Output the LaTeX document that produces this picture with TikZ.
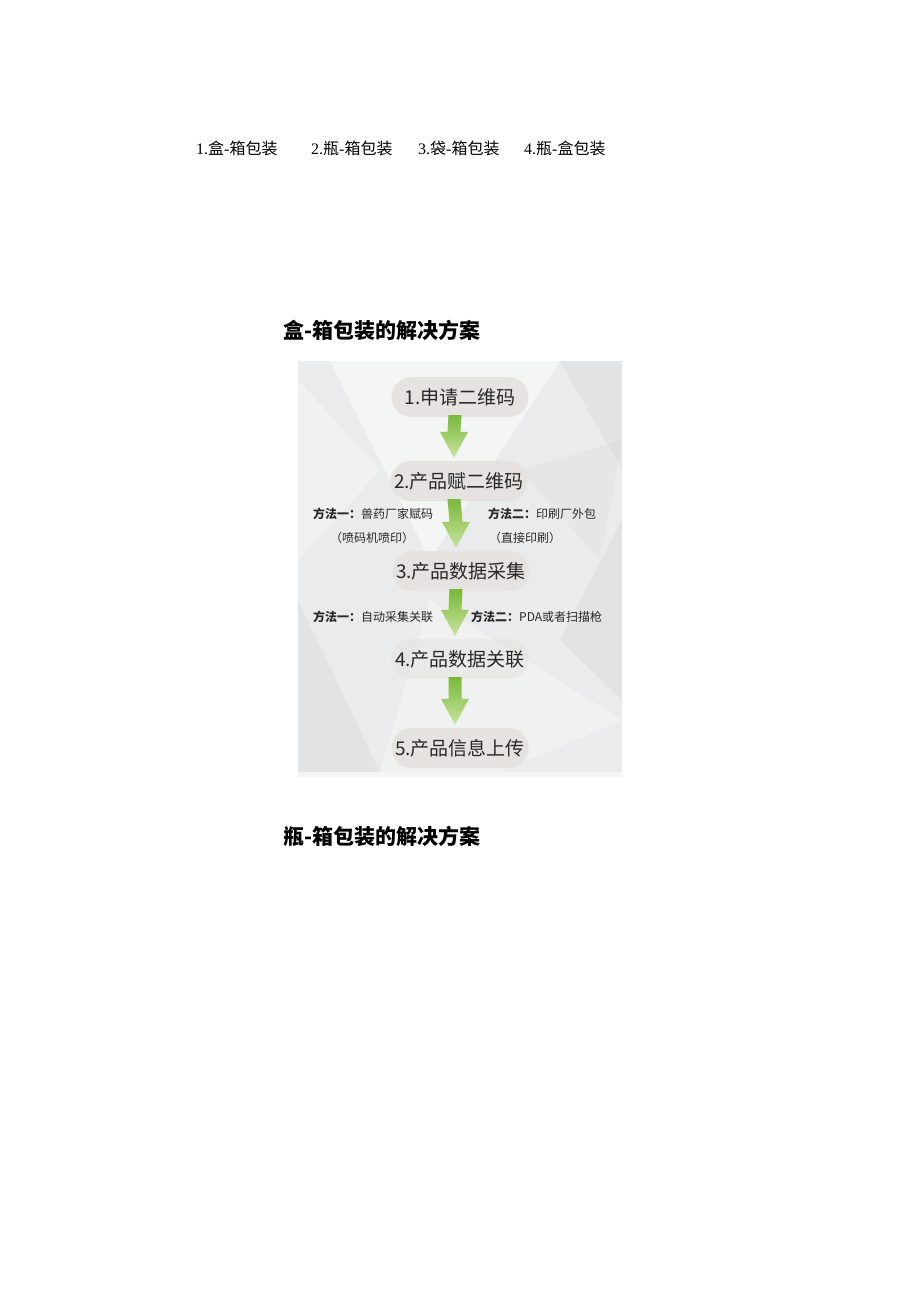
\documentclass[tikz,border=0pt]{standalone}
\usepackage{fontspec}
\setmainfont{Noto Sans CJK SC}
\newfontfamily\latinserif{Liberation Serif}
\usetikzlibrary{calc}
\definecolor{panelgray}{RGB}{234,235,236}
\definecolor{pillgray}{RGB}{229,226,224}
\definecolor{textgray}{RGB}{40,40,40}
\definecolor{arrowtop}{RGB}{122,184,58}
\definecolor{arrowbot}{RGB}{200,228,158}
\tikzset{
  pill/.style={fill=pillgray, rounded corners=20pt, minimum width=137pt, minimum height=40pt,
    inner sep=0pt, text=textgray, font=\fontsize{19}{19}\selectfont},
  method/.style={anchor=west, inner sep=0pt, text=textgray, font=\fontsize{12}{12}\selectfont},
  toptext/.style={anchor=west, inner sep=0pt, font=\fontsize{16}{16}\selectfont},
  heading/.style={anchor=west, inner sep=0pt, font=\fontsize{21}{21}\selectfont},
  arrowshade/.style={top color=arrowtop, bottom color=arrowbot}
}
\newcommand{\flowarrow}[2]{%
  \path[arrowshade] ($(#1.south)+(-11.5,-2)$) -- ($(#1.south)+(1.5,-2)$)
    -- ($(#2.north)+(1.5,-29)$) -- ($(#2.north)+(9,-29)$)
    -- ($(#2.north)+(-5,-3)$) -- ($(#2.north)+(-19,-29)$)
    -- ($(#2.north)+(-11.5,-29)$) -- cycle;}
\begin{document}
\begin{tikzpicture}[x=1pt, y=-1pt]
\useasboundingbox[fill=white] (0,0) rectangle (920,1302);
\node[toptext] (pack1) at (196,148) {{\latinserif 1.}盒{\latinserif -}箱包装};
\node[toptext] (pack2) at (311,148) {{\latinserif 2.}瓶{\latinserif -}箱包装};
\node[toptext] (pack3) at (418,148) {{\latinserif 3.}袋{\latinserif -}箱包装};
\node[toptext] (pack4) at (524,148) {{\latinserif 4.}瓶{\latinserif -}盒包装};
\node[heading] (head1) at (283,330) {\textbf{盒-箱包装的解决方案}};
\node[heading] (head2) at (283,836) {\textbf{瓶-箱包装的解决方案}};
\fill[panelgray] (298,361) rectangle (622,772);
\fill[white, opacity=0.5] (330,361) -- (560,361) -- (430,560) -- cycle;
\fill[white, opacity=0.35] (298,380) -- (380,470) -- (298,560) -- cycle;
\fill[black, opacity=0.03] (560,361) -- (622,361) -- (622,470) -- cycle;
\fill[black, opacity=0.035] (622,520) -- (560,640) -- (622,700) -- cycle;
\fill[black, opacity=0.03] (298,600) -- (380,772) -- (298,772) -- cycle;
\fill[white, opacity=0.3] (430,600) -- (622,720) -- (500,772) -- (380,772) -- cycle;
\fill[black, opacity=0.02] (520,470) -- (622,440) -- (600,560) -- cycle;
\fill[black!4] (298,772) rectangle (622,777);
\node[pill] (step1) at (460,397) {1.申请二维码};
\node[pill] (step2) at (459,481) {2.产品赋二维码};
\node[pill] (step3) at (461,571) {3.产品数据采集};
\node[pill, fill opacity=0.5, text opacity=1] (step4) at (460,659) {4.产品数据关联};
\node[pill] (step5) at (460,748) {5.产品信息上传};
\flowarrow{step1}{step2}
\flowarrow{step2}{step3}
\flowarrow{step3}{step4}
\flowarrow{step4}{step5}
\node[method] (codeA) at (313,514) {\textbf{方法一：}兽药厂家赋码};
\node[method] (codeAb) at (330,538) {（喷码机喷印）};
\node[method] (codeB) at (488,514) {\textbf{方法二：}印刷厂外包};
\node[method] (codeBb) at (489,538) {（直接印刷）};
\node[method] (scanA) at (313,617) {\textbf{方法一：}自动采集关联};
\node[method] (scanB) at (471,617) {\textbf{方法二：}PDA或者扫描枪};
\end{tikzpicture}
\end{document}
